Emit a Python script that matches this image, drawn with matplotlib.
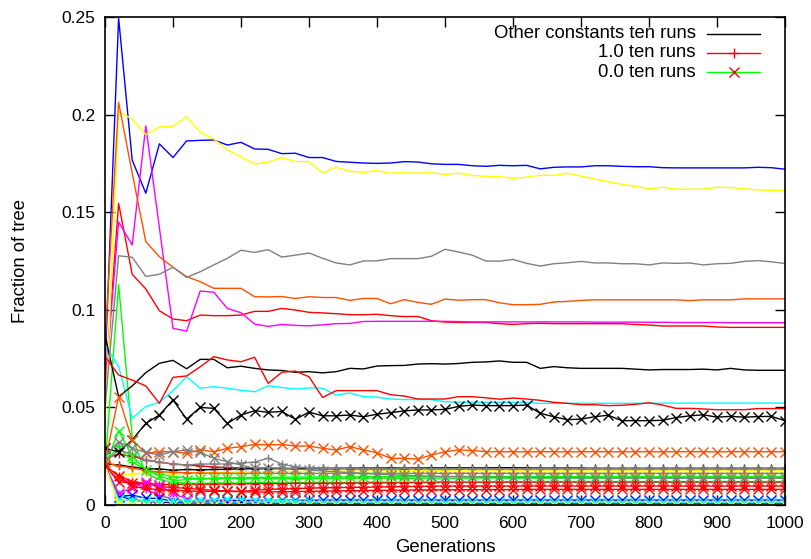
import numpy as np
import matplotlib
matplotlib.use("Agg")
import matplotlib.pyplot as plt
from matplotlib.lines import Line2D

plt.rcParams['font.family'] = ['Liberation Sans', 'DejaVu Sans']

generations = list(range(0, 1001, 20))

# gnuplot-style colour cycle for the ten runs of each group
run_colors = ['#ff0000', '#00ff00', '#0000ff', '#ff00ff', '#00ffff',
              '#ffff00', '#000000', '#ff5000', '#808080', '#ff0000']

# ---- "Other constants" runs (plain lines) ----
other_red_a = [0.060, 0.1545, 0.1182, 0.1107, 0.0995, 0.0953, 0.0944, 0.0973, 0.0970, 0.0970,
               0.0973, 0.0992, 0.0992, 0.1007, 0.0999, 0.0987, 0.0984, 0.0980, 0.0975, 0.0975,
               0.0977, 0.0970, 0.0965, 0.0966, 0.0944, 0.0937, 0.0935, 0.0935, 0.0935, 0.0929,
               0.0925, 0.0929, 0.0931, 0.0929, 0.0929, 0.0929, 0.0929, 0.0929, 0.0929, 0.0925,
               0.0922, 0.0917, 0.0917, 0.0917, 0.0917, 0.0912, 0.0910, 0.0910, 0.0910, 0.0910,
               0.0910]
other_green = [0.020, 0.113, 0.035, 0.016, 0.013, 0.0115, 0.0112, 0.0110, 0.0112, 0.0113,
               0.0112, 0.0114, 0.0115, 0.0113, 0.0114, 0.0115, 0.0116, 0.0115, 0.0114, 0.0116,
               0.0117, 0.0116, 0.0115, 0.0116, 0.0117, 0.0118, 0.0117, 0.0116, 0.0117, 0.0118,
               0.0118, 0.0117, 0.0118, 0.0119, 0.0118, 0.0117, 0.0118, 0.0118, 0.0119, 0.0118,
               0.0118, 0.0117, 0.0118, 0.0119, 0.0118, 0.0118, 0.0119, 0.0118, 0.0118, 0.0118,
               0.0118]
other_blue = [0.070, 0.2495, 0.1767, 0.1597, 0.1850, 0.1780, 0.1865, 0.1868, 0.1870, 0.1844,
              0.1858, 0.1824, 0.1822, 0.1800, 0.1802, 0.1780, 0.1780, 0.1760, 0.1756, 0.1752,
              0.1750, 0.1752, 0.1759, 0.1757, 0.1748, 0.1745, 0.1745, 0.1738, 0.1735, 0.1740,
              0.1738, 0.1740, 0.1722, 0.1730, 0.1732, 0.1732, 0.1738, 0.1738, 0.1735, 0.1733,
              0.1733, 0.1728, 0.1727, 0.1727, 0.1727, 0.1727, 0.1727, 0.1727, 0.1730, 0.1728,
              0.1720]
other_magenta = [0.060, 0.1450, 0.1332, 0.1942, 0.1420, 0.0905, 0.0891, 0.1096, 0.1090, 0.1007,
                 0.0985, 0.0927, 0.0915, 0.0925, 0.0920, 0.0918, 0.0923, 0.0929, 0.0930, 0.0940,
                 0.0941, 0.0941, 0.0941, 0.0941, 0.0941, 0.0941, 0.0940, 0.0938, 0.0938, 0.0938,
                 0.0938, 0.0938, 0.0938, 0.0938, 0.0938, 0.0938, 0.0937, 0.0937, 0.0937, 0.0937,
                 0.0936, 0.0936, 0.0935, 0.0935, 0.0935, 0.0935, 0.0934, 0.0934, 0.0934, 0.0934,
                 0.0934]
other_cyan = [0.082, 0.0710, 0.0444, 0.0504, 0.0526, 0.0586, 0.0657, 0.0598, 0.0606, 0.0598,
              0.0588, 0.0580, 0.0611, 0.0602, 0.0594, 0.0600, 0.0598, 0.0563, 0.0574, 0.0555,
              0.0553, 0.0543, 0.0540, 0.0540, 0.0540, 0.0529, 0.0527, 0.0526, 0.0526, 0.0526,
              0.0526, 0.0526, 0.0521, 0.0521, 0.0521, 0.0521, 0.0521, 0.0521, 0.0521, 0.0521,
              0.0521, 0.0522, 0.0522, 0.0522, 0.0522, 0.0522, 0.0522, 0.0522, 0.0522, 0.0522,
              0.0522]
other_yellow = [0.040, 0.2015, 0.1977, 0.1897, 0.1937, 0.1940, 0.1988, 0.1910, 0.1875, 0.1819,
                0.1784, 0.1747, 0.1756, 0.1780, 0.1759, 0.1759, 0.1700, 0.1730, 0.1710, 0.1704,
                0.1713, 0.1700, 0.1702, 0.1700, 0.1702, 0.1694, 0.1700, 0.1688, 0.1684, 0.1682,
                0.1673, 0.1680, 0.1689, 0.1689, 0.1700, 0.1685, 0.1670, 0.1656, 0.1643, 0.1633,
                0.1619, 0.1628, 0.1618, 0.1618, 0.1618, 0.1628, 0.1626, 0.1620, 0.1614, 0.1612,
                0.1612]
other_black = [0.087, 0.0555, 0.0610, 0.0678, 0.0726, 0.0741, 0.0698, 0.0746, 0.0746, 0.0703,
               0.0711, 0.0700, 0.0692, 0.0689, 0.0680, 0.0683, 0.0677, 0.0683, 0.0700, 0.0697,
               0.0712, 0.0714, 0.0715, 0.0722, 0.0724, 0.0722, 0.0725, 0.0731, 0.0733, 0.0738,
               0.0731, 0.0731, 0.0700, 0.0709, 0.0703, 0.0700, 0.0700, 0.0700, 0.0700, 0.0696,
               0.0692, 0.0694, 0.0694, 0.0694, 0.0696, 0.0692, 0.0700, 0.0692, 0.0690, 0.0690,
               0.0690]
other_orange = [0.083, 0.2063, 0.1700, 0.1349, 0.1272, 0.1218, 0.1170, 0.1144, 0.1110, 0.1110,
                0.1110, 0.1067, 0.1066, 0.1068, 0.1058, 0.1067, 0.1063, 0.1063, 0.1048, 0.1058,
                0.1058, 0.1031, 0.1052, 0.1038, 0.1028, 0.1055, 0.1049, 0.1052, 0.1052, 0.1036,
                0.1026, 0.1026, 0.1028, 0.1040, 0.1043, 0.1048, 0.1051, 0.1051, 0.1051, 0.1051,
                0.1051, 0.1051, 0.1051, 0.1047, 0.1051, 0.1051, 0.1051, 0.1056, 0.1056, 0.1056,
                0.1056]
other_gray = [0.050, 0.1277, 0.1269, 0.1171, 0.1182, 0.1218, 0.1166, 0.1195, 0.1230, 0.1264,
              0.1305, 0.1294, 0.1308, 0.1270, 0.1280, 0.1291, 0.1264, 0.1240, 0.1230, 0.1250,
              0.1251, 0.1262, 0.1262, 0.1262, 0.1274, 0.1310, 0.1296, 0.1280, 0.1250, 0.1249,
              0.1258, 0.1238, 0.1224, 0.1236, 0.1241, 0.1248, 0.1240, 0.1240, 0.1236, 0.1236,
              0.1230, 0.1240, 0.1238, 0.1240, 0.1230, 0.1236, 0.1238, 0.1248, 0.1252, 0.1246,
              0.1237]
other_red_b = [0.076, 0.0666, 0.0640, 0.0610, 0.0521, 0.0654, 0.0661, 0.0708, 0.0760, 0.0743,
               0.0734, 0.0757, 0.0623, 0.0680, 0.0686, 0.0657, 0.0551, 0.0586, 0.0586, 0.0586,
               0.0586, 0.0565, 0.0558, 0.0543, 0.0543, 0.0543, 0.0555, 0.0555, 0.0549, 0.0542,
               0.0548, 0.0543, 0.0536, 0.0526, 0.0521, 0.0514, 0.0514, 0.0509, 0.0511, 0.0516,
               0.0524, 0.0512, 0.0495, 0.0495, 0.0492, 0.0488, 0.0488, 0.0488, 0.0494, 0.0494,
               0.0494]

# ---- "1.0" runs (lines with plus points) ----
one_red_a = [0.024, 0.026, 0.025, 0.023, 0.022, 0.021, 0.0205, 0.0200, 0.0195, 0.0192,
             0.0190, 0.0190, 0.0188, 0.0187, 0.0186, 0.0186, 0.0185, 0.0185, 0.0186, 0.0185,
             0.0185, 0.0184, 0.0185, 0.0186, 0.0185, 0.0184, 0.0185, 0.0185, 0.0184, 0.0184,
             0.0185, 0.0184, 0.0184, 0.0184, 0.0185, 0.0184, 0.0184, 0.0183, 0.0184, 0.0184,
             0.0184, 0.0184, 0.0184, 0.0184, 0.0184, 0.0184, 0.0184, 0.0184, 0.0184, 0.0184,
             0.0184]
one_green = [0.022, 0.030, 0.022, 0.018, 0.016, 0.0145, 0.0140, 0.0135, 0.0135, 0.0136,
             0.0135, 0.0136, 0.0137, 0.0136, 0.0135, 0.0136, 0.0137, 0.0136, 0.0136, 0.0137,
             0.0138, 0.0137, 0.0136, 0.0137, 0.0138, 0.0138, 0.0137, 0.0138, 0.0139, 0.0138,
             0.0138, 0.0139, 0.0138, 0.0138, 0.0139, 0.0139, 0.0138, 0.0139, 0.0139, 0.0138,
             0.0139, 0.0139, 0.0140, 0.0139, 0.0139, 0.0140, 0.0139, 0.0140, 0.0140, 0.0139,
             0.0140]
one_blue = [0.020, 0.005, 0.0025, 0.0018, 0.0015, 0.0012, 0.0011, 0.0010, 0.0010, 0.0010,
            0.0010, 0.0010, 0.0010, 0.0010, 0.0010, 0.0010, 0.0010, 0.0010, 0.0010, 0.0010,
            0.0010, 0.0010, 0.0010, 0.0010, 0.0010, 0.0010, 0.0010, 0.0010, 0.0010, 0.0010,
            0.0010, 0.0010, 0.0010, 0.0010, 0.0010, 0.0010, 0.0010, 0.0010, 0.0010, 0.0010,
            0.0010, 0.0010, 0.0010, 0.0010, 0.0010, 0.0010, 0.0010, 0.0010, 0.0010, 0.0010,
            0.0010]
one_magenta = [0.020, 0.013, 0.012, 0.008, 0.005, 0.003, 0.002, 0.001, 0.0005, 0.0003,
               0.0002, 0.0001, 0.0, 0.0, 0.0, 0.0, 0.0, 0.0, 0.0, 0.0,
               0.0, 0.0, 0.0, 0.0, 0.0, 0.0, 0.0, 0.0, 0.0, 0.0,
               0.0, 0.0, 0.0, 0.0, 0.0, 0.0, 0.0, 0.0, 0.0, 0.0,
               0.0, 0.0, 0.0, 0.0, 0.0, 0.0, 0.0, 0.0, 0.0, 0.0,
               0.0]
one_cyan = [0.020, 0.006, 0.003, 0.0022, 0.0020, 0.0018, 0.0017, 0.0016, 0.0016, 0.0015,
            0.0015, 0.0015, 0.0015, 0.0015, 0.0015, 0.0015, 0.0015, 0.0015, 0.0015, 0.0015,
            0.0015, 0.0015, 0.0015, 0.0015, 0.0015, 0.0015, 0.0015, 0.0015, 0.0015, 0.0015,
            0.0015, 0.0015, 0.0015, 0.0015, 0.0015, 0.0015, 0.0015, 0.0015, 0.0015, 0.0015,
            0.0015, 0.0015, 0.0015, 0.0015, 0.0015, 0.0015, 0.0015, 0.0015, 0.0015, 0.0015,
            0.0015]
one_yellow = [0.019, 0.015, 0.016, 0.0165, 0.0162, 0.0160, 0.0163, 0.0166, 0.0168, 0.0168,
              0.0170, 0.0170, 0.0171, 0.0172, 0.0172, 0.0173, 0.0173, 0.0174, 0.0174, 0.0175,
              0.0175, 0.0175, 0.0176, 0.0176, 0.0176, 0.0176, 0.0177, 0.0177, 0.0177, 0.0177,
              0.0177, 0.0177, 0.0178, 0.0178, 0.0178, 0.0178, 0.0178, 0.0178, 0.0178, 0.0178,
              0.0178, 0.0178, 0.0178, 0.0178, 0.0178, 0.0178, 0.0178, 0.0178, 0.0178, 0.0178,
              0.0178]
one_black = [0.021, 0.0205, 0.0195, 0.0185, 0.0185, 0.0178, 0.0182, 0.0180, 0.0182, 0.0183,
             0.0185, 0.0186, 0.0186, 0.0187, 0.0187, 0.0188, 0.0188, 0.0188, 0.0189, 0.0189,
             0.0189, 0.0190, 0.0189, 0.0190, 0.0190, 0.0190, 0.0191, 0.0190, 0.0190, 0.0191,
             0.0191, 0.0190, 0.0189, 0.0189, 0.0189, 0.0189, 0.0188, 0.0188, 0.0188, 0.0188,
             0.0188, 0.0188, 0.0188, 0.0188, 0.0188, 0.0188, 0.0188, 0.0188, 0.0188, 0.0188,
             0.0188]
one_orange = [0.022, 0.020, 0.019, 0.0175, 0.0170, 0.0168, 0.0165, 0.0164, 0.0163, 0.0163,
              0.0162, 0.0162, 0.0162, 0.0162, 0.0162, 0.0162, 0.0162, 0.0162, 0.0162, 0.0162,
              0.0162, 0.0162, 0.0162, 0.0162, 0.0162, 0.0162, 0.0162, 0.0162, 0.0162, 0.0162,
              0.0162, 0.0162, 0.0162, 0.0162, 0.0162, 0.0162, 0.0162, 0.0162, 0.0162, 0.0162,
              0.0162, 0.0162, 0.0162, 0.0162, 0.0162, 0.0162, 0.0162, 0.0162, 0.0162, 0.0162,
              0.0162]
one_gray = [0.022, 0.028, 0.026, 0.023, 0.022, 0.021, 0.0205, 0.0210, 0.0210, 0.0210,
            0.0215, 0.0220, 0.0240, 0.0210, 0.0195, 0.0190, 0.0188, 0.0188, 0.0187, 0.0186,
            0.0186, 0.0186, 0.0187, 0.0187, 0.0186, 0.0186, 0.0187, 0.0186, 0.0186, 0.0186,
            0.0186, 0.0186, 0.0186, 0.0186, 0.0186, 0.0186, 0.0186, 0.0186, 0.0186, 0.0186,
            0.0186, 0.0186, 0.0186, 0.0186, 0.0186, 0.0186, 0.0186, 0.0186, 0.0186, 0.0186,
            0.0186]
one_red_b = [0.020, 0.015, 0.012, 0.011, 0.0105, 0.0105, 0.0106, 0.0106, 0.0107, 0.0108,
             0.0108, 0.0109, 0.0110, 0.0110, 0.0111, 0.0111, 0.0112, 0.0112, 0.0113, 0.0113,
             0.0114, 0.0114, 0.0115, 0.0115, 0.0115, 0.0116, 0.0116, 0.0116, 0.0117, 0.0117,
             0.0117, 0.0117, 0.0117, 0.0118, 0.0118, 0.0118, 0.0118, 0.0118, 0.0118, 0.0118,
             0.0118, 0.0118, 0.0118, 0.0118, 0.0118, 0.0118, 0.0118, 0.0118, 0.0118, 0.0118,
             0.0118]

# ---- "0.0" runs (lines with cross points) ----
zero_red_a = [0.020, 0.0120, 0.0111, 0.0110, 0.0094, 0.0090, 0.0085, 0.0080, 0.0075, 0.0072,
              0.0070, 0.0075, 0.0080, 0.0082, 0.0084, 0.0086, 0.0088, 0.0089, 0.0090, 0.0091,
              0.0092, 0.0093, 0.0094, 0.0095, 0.0096, 0.0097, 0.0097, 0.0097, 0.0097, 0.0097,
              0.0097, 0.0097, 0.0097, 0.0097, 0.0097, 0.0097, 0.0097, 0.0097, 0.0097, 0.0097,
              0.0097, 0.0097, 0.0097, 0.0097, 0.0097, 0.0097, 0.0097, 0.0097, 0.0097, 0.0097,
              0.0097]
zero_green = [0.020, 0.038, 0.025, 0.018, 0.015, 0.0125, 0.0130, 0.0135, 0.0138, 0.0140,
              0.0140, 0.0141, 0.0142, 0.0142, 0.0143, 0.0143, 0.0144, 0.0144, 0.0144, 0.0145,
              0.0145, 0.0145, 0.0145, 0.0145, 0.0145, 0.0146, 0.0146, 0.0146, 0.0146, 0.0146,
              0.0146, 0.0146, 0.0146, 0.0146, 0.0146, 0.0146, 0.0146, 0.0146, 0.0146, 0.0146,
              0.0146, 0.0146, 0.0146, 0.0146, 0.0146, 0.0146, 0.0146, 0.0146, 0.0146, 0.0146,
              0.0146]
zero_blue = [0.020, 0.0043, 0.0051, 0.0034, 0.0034, 0.0017, 0.0020, 0.0020, 0.0021, 0.0022,
             0.0022, 0.0023, 0.0023, 0.0024, 0.0024, 0.0024, 0.0025, 0.0025, 0.0025, 0.0025,
             0.0025, 0.0025, 0.0025, 0.0025, 0.0025, 0.0025, 0.0025, 0.0025, 0.0025, 0.0025,
             0.0025, 0.0025, 0.0025, 0.0025, 0.0025, 0.0025, 0.0025, 0.0025, 0.0025, 0.0025,
             0.0025, 0.0025, 0.0025, 0.0025, 0.0025, 0.0025, 0.0025, 0.0025, 0.0025, 0.0025,
             0.0025]
zero_magenta = [0.020, 0.0060, 0.0087, 0.0120, 0.0100, 0.0060, 0.0030, 0.0010, 0.0005, 0.0003,
                0.0002, 0.0001, 0.0, 0.0, 0.0, 0.0, 0.0, 0.0, 0.0, 0.0,
                0.0, 0.0, 0.0, 0.0, 0.0, 0.0, 0.0, 0.0, 0.0, 0.0,
                0.0, 0.0, 0.0, 0.0, 0.0, 0.0, 0.0, 0.0, 0.0, 0.0,
                0.0, 0.0, 0.0, 0.0, 0.0, 0.0, 0.0, 0.0, 0.0, 0.0,
                0.0]
zero_cyan = [0.020, 0.0030, 0.0020, 0.0020, 0.0020, 0.0020, 0.0022, 0.0025, 0.0028, 0.0030,
             0.0030, 0.0028, 0.0025, 0.0022, 0.0020, 0.0018, 0.0017, 0.0016, 0.0016, 0.0015,
             0.0015, 0.0015, 0.0015, 0.0015, 0.0015, 0.0015, 0.0015, 0.0015, 0.0015, 0.0015,
             0.0015, 0.0015, 0.0015, 0.0015, 0.0015, 0.0015, 0.0015, 0.0015, 0.0015, 0.0015,
             0.0015, 0.0015, 0.0015, 0.0015, 0.0015, 0.0015, 0.0015, 0.0015, 0.0015, 0.0015,
             0.0015]
zero_yellow = [0.020, 0.0010, 0.0003, 0.0001, 0.0, 0.0, 0.0, 0.0, 0.0, 0.0,
               0.0, 0.0, 0.0, 0.0, 0.0, 0.0, 0.0, 0.0, 0.0, 0.0,
               0.0, 0.0, 0.0, 0.0, 0.0, 0.0, 0.0, 0.0, 0.0, 0.0,
               0.0, 0.0, 0.0, 0.0, 0.0, 0.0, 0.0, 0.0, 0.0, 0.0,
               0.0, 0.0, 0.0, 0.0, 0.0, 0.0, 0.0, 0.0, 0.0, 0.0,
               0.0]
zero_black = [0.0290, 0.0273, 0.0333, 0.0418, 0.0461, 0.0538, 0.0440, 0.0500, 0.0495, 0.0418,
              0.0461, 0.0483, 0.0475, 0.0479, 0.0439, 0.0476, 0.0457, 0.0457, 0.0461, 0.0452,
              0.0465, 0.0473, 0.0482, 0.0487, 0.0487, 0.0490, 0.0505, 0.0512, 0.0509, 0.0509,
              0.0509, 0.0512, 0.0470, 0.0452, 0.0437, 0.0440, 0.0452, 0.0460, 0.0432, 0.0432,
              0.0432, 0.0434, 0.0448, 0.0457, 0.0462, 0.0450, 0.0454, 0.0450, 0.0453, 0.0454,
              0.0432]
zero_orange = [0.0220, 0.0555, 0.0333, 0.0265, 0.0273, 0.0273, 0.0265, 0.0282, 0.0273, 0.0290,
               0.0299, 0.0310, 0.0308, 0.0310, 0.0302, 0.0302, 0.0290, 0.0282, 0.0299, 0.0282,
               0.0268, 0.0239, 0.0239, 0.0235, 0.0256, 0.0273, 0.0282, 0.0279, 0.0273, 0.0273,
               0.0273, 0.0272, 0.0273, 0.0273, 0.0272, 0.0273, 0.0273, 0.0273, 0.0272, 0.0273,
               0.0273, 0.0272, 0.0273, 0.0273, 0.0273, 0.0272, 0.0273, 0.0273, 0.0273, 0.0273,
               0.0273]
zero_gray = [0.0250, 0.0324, 0.0290, 0.0270, 0.0256, 0.0273, 0.0282, 0.0270, 0.0239, 0.0222,
             0.0205, 0.0188, 0.0190, 0.0188, 0.0185, 0.0180, 0.0175, 0.0170, 0.0166, 0.0162,
             0.0158, 0.0155, 0.0152, 0.0150, 0.0148, 0.0146, 0.0145, 0.0144, 0.0143, 0.0142,
             0.0141, 0.0141, 0.0140, 0.0140, 0.0139, 0.0139, 0.0139, 0.0138, 0.0138, 0.0138,
             0.0138, 0.0137, 0.0137, 0.0137, 0.0137, 0.0137, 0.0137, 0.0137, 0.0137, 0.0137,
             0.0137]
zero_red_b = [0.020, 0.0150, 0.0095, 0.0085, 0.0078, 0.0075, 0.0072, 0.0070, 0.0070, 0.0070,
              0.0068, 0.0066, 0.0067, 0.0068, 0.0069, 0.0070, 0.0071, 0.0072, 0.0073, 0.0074,
              0.0075, 0.0076, 0.0076, 0.0077, 0.0077, 0.0078, 0.0078, 0.0078, 0.0079, 0.0079,
              0.0079, 0.0080, 0.0080, 0.0080, 0.0080, 0.0080, 0.0080, 0.0080, 0.0080, 0.0080,
              0.0080, 0.0080, 0.0080, 0.0080, 0.0080, 0.0080, 0.0080, 0.0080, 0.0080, 0.0080,
              0.0080]

other_runs = [other_red_a, other_green, other_blue, other_magenta, other_cyan,
              other_yellow, other_black, other_orange, other_gray, other_red_b]
one_runs = [one_red_a, one_green, one_blue, one_magenta, one_cyan,
            one_yellow, one_black, one_orange, one_gray, one_red_b]
zero_runs = [zero_red_a, zero_green, zero_blue, zero_magenta, zero_cyan,
             zero_yellow, zero_black, zero_orange, zero_gray, zero_red_b]

legend_labels = ["Other constants ten runs", "1.0 ten runs", "0.0 ten runs"]

fig = plt.figure(figsize=(8.11, 5.59), dpi=100)
ax = fig.add_axes([105 / 811, 54 / 559, 680 / 811, 488 / 559])

lw = 1.0
for vals, col in zip(other_runs, run_colors):
    ax.plot(generations, vals, color=col, lw=lw)
for vals, col in zip(one_runs, run_colors):
    ax.plot(generations, vals, color=col, lw=lw, marker='+', ms=6, mew=1.0)
for vals, col in zip(zero_runs, run_colors):
    ax.plot(generations, vals, color=col, lw=lw, marker='x', ms=7, mew=1.0)

ax.set_xlim(0, 1000)
ax.set_ylim(0, 0.25)
ax.set_xticks(range(0, 1001, 100))
ax.set_yticks([0, 0.05, 0.1, 0.15, 0.2, 0.25])
ax.set_yticklabels(['0', '0.05', '0.1', '0.15', '0.2', '0.25'])
ax.tick_params(direction='in', length=7, width=1.0, top=True, right=True,
               labelsize=12.5)
ax.tick_params(axis='x', pad=8)
ax.tick_params(axis='y', pad=7)
for s in ax.spines.values():
    s.set_linewidth(1.2)

ax.set_xlabel("Generations", fontsize=13.3, labelpad=6)
ax.set_ylabel("Fraction of tree", fontsize=13.3, labelpad=23)

# key in the upper right, text right-justified to the left of each sample
key_styles = [dict(color='#000000', marker=None),
              dict(color='#ff0000', marker='+', mec='#ff0000'),
              dict(color='#00ff00', marker='x', mec='#ff0000')]
for row, (label, st) in enumerate(zip(legend_labels, key_styles)):
    yk = 0.966 - row * 0.0395
    ax.text(0.869, yk, label, transform=ax.transAxes, ha='right', va='center',
            fontsize=13.3)
    ax.add_line(Line2D([0.886, 0.9245, 0.963], [yk, yk, yk], transform=ax.transAxes,
                       color=st['color'], lw=lw, marker=st['marker'], markevery=[1],
                       ms=7, mew=1.0, mec=st.get('mec', st['color'])))

fig.savefig("out.png", dpi=100)
